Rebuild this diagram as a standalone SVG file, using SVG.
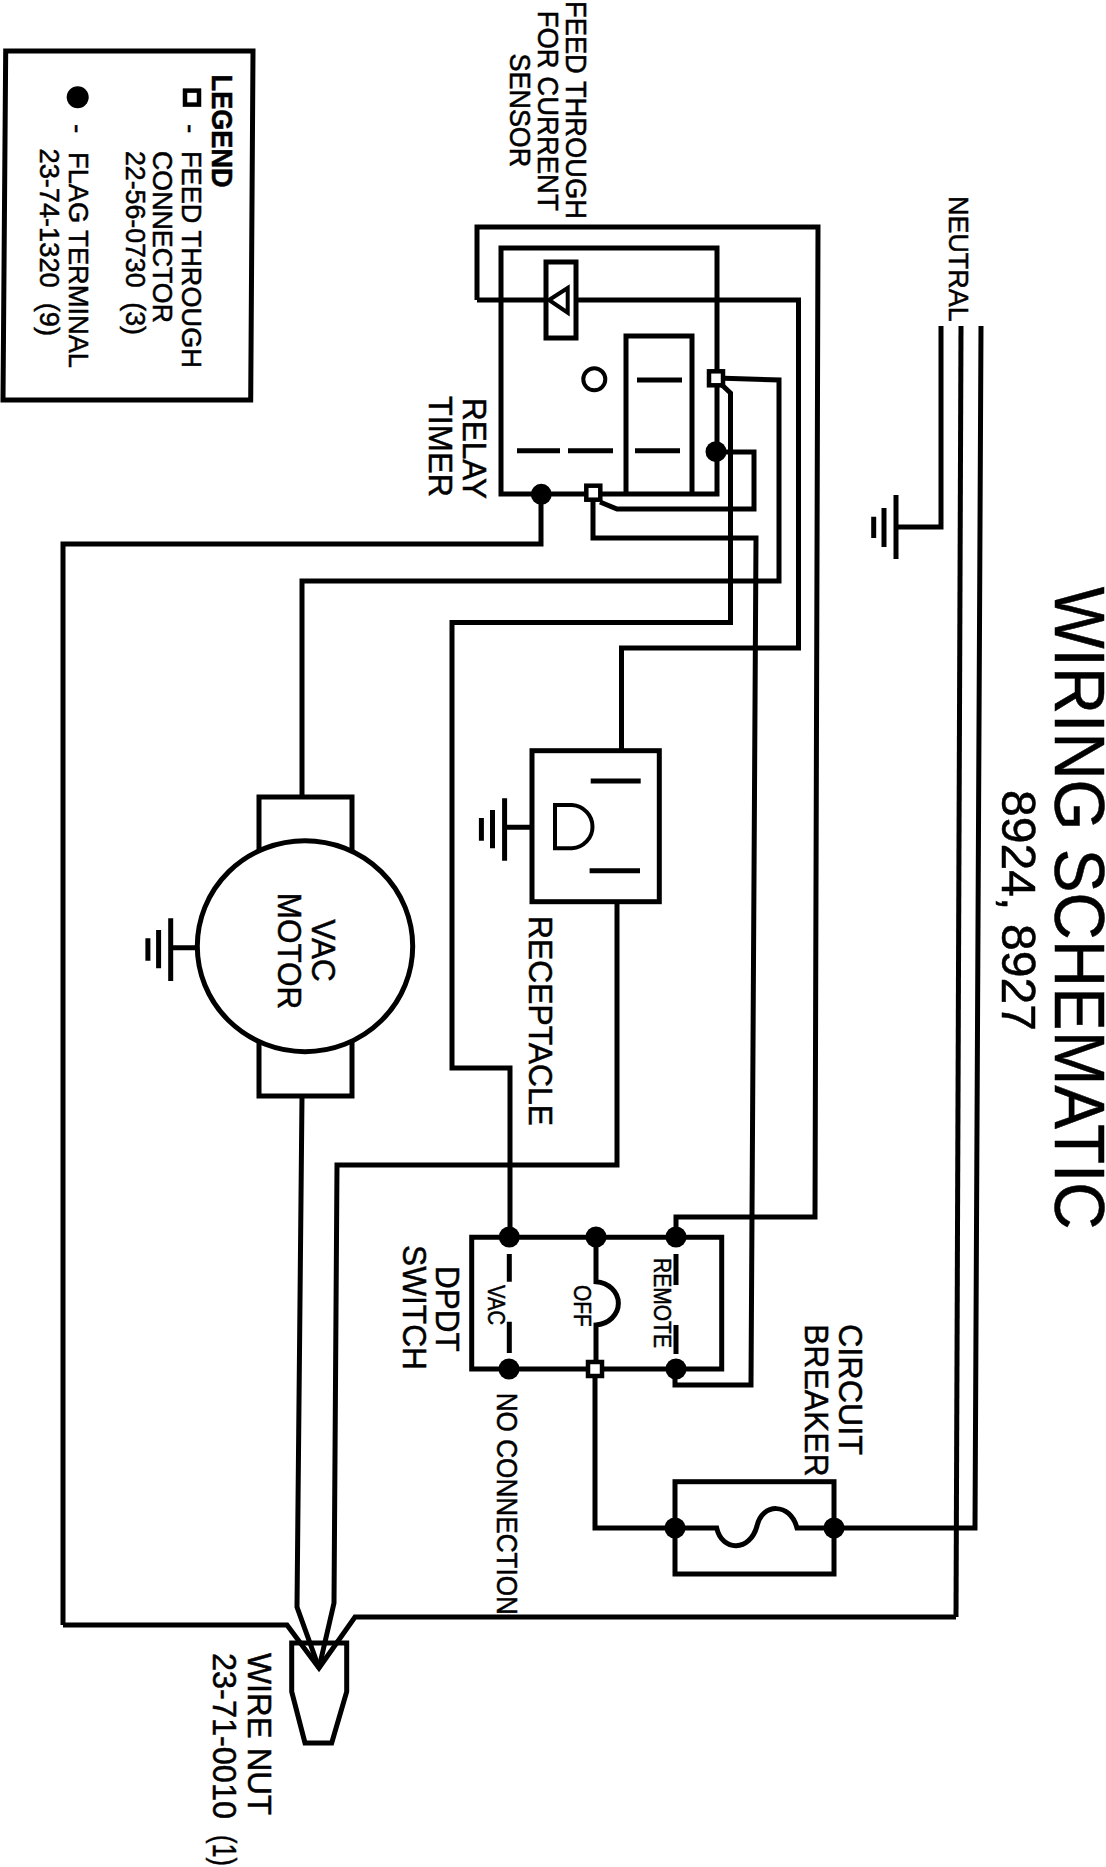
<svg xmlns="http://www.w3.org/2000/svg" width="1106" height="1867" viewBox="0 0 1106 1867">
<style>
text{font-family:"Liberation Sans",Arial,sans-serif;fill:#000;stroke:#000;stroke-width:.5;white-space:pre}
.w{fill:none;stroke:#000;stroke-width:5;stroke-linejoin:miter}
.t{fill:none;stroke:#000;stroke-width:4}
.box{fill:#fff;stroke:#000;stroke-width:5}
.dot{fill:#000}
.sq{fill:#fff;stroke:#000;stroke-width:4.500}
</style>
<defs>
<circle id="d" r="10.500" class="dot"/>
<rect id="s" x="-7" y="-7" width="14" height="14" class="sq"/>
</defs>
<rect width="1106" height="1867" fill="#fff"/>
<g id="connectors">
<path class="w" d="M63,1625 V544 H541 V494"/>
<path class="w" d="M716,378 L779,380 V581 H302 V797"/>
<path class="w" d="M722,385 L730.500,393 V622.500 H452 V1068 H510 V1237"/>
<path class="w" d="M716,452 H754 V509 H617 L600,502"/>
<path class="w" d="M593,500 V538 H756 L751,1385 H675 V1369"/>
<path class="w" d="M477,300 V227 H818 L815,1217 H676 V1237"/>
<path class="w" d="M477,300 H548 M577,300 H798.500 V648 H621.500 V751"/>
<path class="w" d="M302,1096 L297,1607 L319,1668"/>
<path class="w" d="M617,902 V1165 H337 L334,1603 L319,1668"/>
<path class="w" d="M63,1625 H287 L319,1668 L355,1617 H956"/>
<path class="w" d="M595,1369 V1528 H675"/>
<path class="w" d="M834,1528 H975 L981,326"/>
<path class="w" d="M956,1617 L961,326"/>
<path class="w" d="M941,326 V527 H896"/>
</g>
<g id="legend">
<path class="w" d="M5.700,51 H253 L250.700,400 H3 Z"/>
<text transform="translate(212.400,74.600) rotate(90)" font-size="29" font-weight="bold" textLength="113" lengthAdjust="spacingAndGlyphs">LEGEND</text>
<rect x="185" y="90.600" width="14" height="14" fill="#fff" stroke="#000" stroke-width="4.500"/>
<text transform="translate(181.800,124) rotate(90)" font-size="28">-</text>
<text transform="translate(181.800,151) rotate(90)" font-size="28" textLength="217" lengthAdjust="spacingAndGlyphs">FEED THROUGH</text>
<text transform="translate(153,151) rotate(90)" font-size="28" textLength="172" lengthAdjust="spacingAndGlyphs">CONNECTOR</text>
<text transform="translate(125.500,151) rotate(90)" font-size="28" textLength="184" lengthAdjust="spacingAndGlyphs">22-56-0730  (3)</text>
<circle cx="77.700" cy="97.200" r="11" class="dot"/>
<text transform="translate(69,124) rotate(90)" font-size="28">-</text>
<text transform="translate(69,152) rotate(90)" font-size="28" textLength="216" lengthAdjust="spacingAndGlyphs">FLAG TERMINAL</text>
<text transform="translate(40,148.500) rotate(90)" font-size="28" textLength="187.500" lengthAdjust="spacingAndGlyphs">23-74-1320  (9)</text>
</g>
<g id="relay-timer">
<path class="w" d="M501,248 H717 V494 H501 Z"/>
<rect x="546" y="262" width="30" height="76" fill="none" stroke="#000" stroke-width="5"/>
<path d="M549,300 L567.700,288 V312.700 Z" class="t"/>
<path class="w" d="M626,494 V336 H692 V494"/>
<circle cx="594.300" cy="379.300" r="11" class="t"/>
<path class="w" d="M637,380 H682 M517,450.700 H560 M568,450.700 H613 M635,450.700 H680"/>
<use href="#s" x="716" y="378.300"/>
<use href="#d" x="716" y="451.700"/>
<use href="#s" x="593.300" y="492.700"/>
<use href="#d" x="541.300" y="494.300"/>
<text transform="translate(463,398) rotate(90)" font-size="34" textLength="101" lengthAdjust="spacingAndGlyphs">RELAY</text>
<text transform="translate(428.600,396) rotate(90)" font-size="34" textLength="101" lengthAdjust="spacingAndGlyphs">TIMER</text>
<text transform="translate(565.600,1) rotate(90)" font-size="29" textLength="218" lengthAdjust="spacingAndGlyphs">FEED THROUGH</text>
<text transform="translate(537.700,10.700) rotate(90)" font-size="29" textLength="200" lengthAdjust="spacingAndGlyphs">FOR CURRENT</text>
<text transform="translate(510,53.600) rotate(90)" font-size="29" textLength="113.600" lengthAdjust="spacingAndGlyphs">SENSOR</text>
</g>
<g id="motor">
<rect x="259" y="797" width="93" height="299" class="box"/>
<ellipse cx="305" cy="946.200" rx="107.700" ry="105.500" class="box"/>
<path class="w" d="M197,947.700 H170.700 M170.700,918.300 V981 M158.600,930 V968.300 M147.900,938.300 V960.700"/>
<text transform="translate(312,919.300) rotate(90)" font-size="34" textLength="62.400" lengthAdjust="spacingAndGlyphs">VAC</text>
<text transform="translate(278,892.700) rotate(90)" font-size="34" textLength="116.600" lengthAdjust="spacingAndGlyphs">MOTOR</text>
</g>
<g id="receptacle">
<rect x="532" y="750.700" width="127.300" height="151" class="box"/>
<path class="w" d="M590.700,781 H640.700 M589.600,870.700 H640"/>
<path class="t" d="M555,805 H572 A22,21.700 0 0 1 572,848.300 H555 Z"/>
<path class="w" d="M532,827.300 H504.600 M504.600,798.300 V860.700 M492.500,810 V848.300 M481.400,818 V840.700"/>
<text transform="translate(529,916) rotate(90)" font-size="33" textLength="210" lengthAdjust="spacingAndGlyphs">RECEPTACLE</text>
</g>
<g id="ground-neutral">
<path class="w" d="M896,495 V559 M884,508 V547 M873.700,516.700 V538"/>
<text transform="translate(949.300,196) rotate(90)" font-size="28" textLength="125.700" lengthAdjust="spacingAndGlyphs">NEUTRAL</text>
</g>
<g id="dpdt-switch">
<path class="w" d="M471.700,1237.300 H721.700 V1369 H471.700 Z"/>
<path class="w" d="M509.300,1254 V1281.700 M509.300,1321.700 V1353 M676,1254 V1285 M676,1325 V1354"/>
<path class="w" d="M596,1237 V1281.700 A24,21.700 0 0 1 596,1325 V1369"/>
<use href="#d" x="509.300" y="1237"/>
<use href="#d" x="596" y="1237"/>
<use href="#d" x="676" y="1237"/>
<use href="#d" x="509" y="1369"/>
<use href="#s" x="595" y="1369"/>
<use href="#d" x="676" y="1369"/>
<text transform="translate(488.300,1285) rotate(90)" font-size="23" textLength="40" lengthAdjust="spacingAndGlyphs">VAC</text>
<text transform="translate(574,1285) rotate(90)" font-size="23" textLength="41.700" lengthAdjust="spacingAndGlyphs">OFF</text>
<text transform="translate(654,1258) rotate(90)" font-size="23" textLength="90" lengthAdjust="spacingAndGlyphs">REMOTE</text>
<text transform="translate(436,1266) rotate(90)" font-size="34" textLength="85.700" lengthAdjust="spacingAndGlyphs">DPDT</text>
<text transform="translate(402.700,1245) rotate(90)" font-size="34" textLength="125" lengthAdjust="spacingAndGlyphs">SWITCH</text>
<text transform="translate(497.300,1392.700) rotate(90)" font-size="29" textLength="222.300" lengthAdjust="spacingAndGlyphs">NO CONNECTION</text>
</g>
<g id="circuit-breaker">
<rect x="675" y="1481.700" width="159" height="92.300" fill="none" stroke="#000" stroke-width="5"/>
<path class="w" d="M675,1528 H716.700 C722,1552 750,1552 757,1526 C762,1503 790,1502 797,1528 H834"/>
<use href="#d" x="675" y="1528"/>
<use href="#d" x="834" y="1528"/>
<text transform="translate(839.300,1324) rotate(90)" font-size="34" textLength="131" lengthAdjust="spacingAndGlyphs">CIRCUIT</text>
<text transform="translate(805,1324) rotate(90)" font-size="34" textLength="152.700" lengthAdjust="spacingAndGlyphs">BREAKER</text>
</g>
<g id="wire-nut">
<path class="w" d="M291.700,1643 H346.700 V1691.700 L331.700,1743 H305 L291.700,1691.700 Z"/>
<text transform="translate(248.300,1653) rotate(90)" font-size="34" textLength="162" lengthAdjust="spacingAndGlyphs">WIRE NUT</text>
<text transform="translate(213,1653) rotate(90)" font-size="34" textLength="166" lengthAdjust="spacingAndGlyphs">23-71-0010</text>
<text transform="translate(213,1835) rotate(90)" font-size="34" textLength="31" lengthAdjust="spacingAndGlyphs">(1)</text>
</g>
<g id="title">
<text transform="translate(1055,586.800) rotate(90)" font-size="70" textLength="642.800" lengthAdjust="spacingAndGlyphs">WIRING SCHEMATIC</text>
<text transform="translate(1001.700,790) rotate(90)" font-size="48" textLength="241" lengthAdjust="spacingAndGlyphs">8924, 8927</text>
</g>
</svg>
